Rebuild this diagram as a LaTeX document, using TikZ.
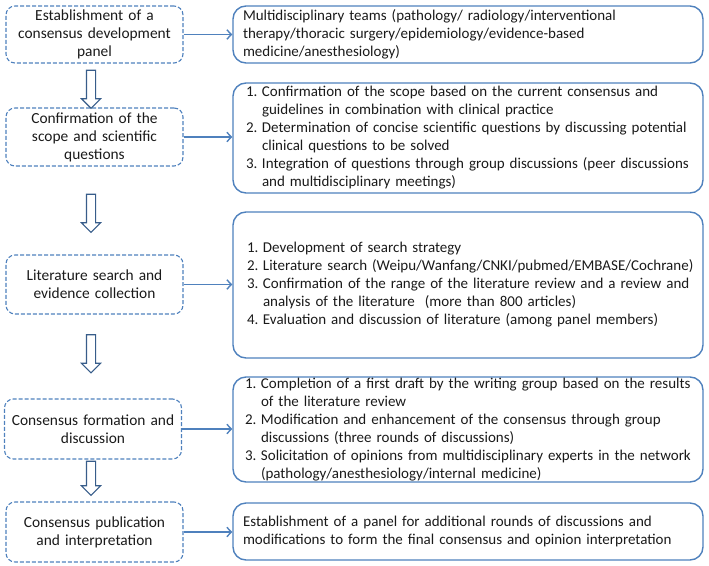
\documentclass[tikz,border=0pt]{standalone}
\usepackage{fontspec}
\setmainfont{Carlito}
\usepackage{tikz}
\usetikzlibrary{arrows.meta,shapes.arrows,positioning}
\definecolor{boxblue}{HTML}{4F81BD}
\definecolor{darkblue}{HTML}{385D8A}
\definecolor{txt}{HTML}{1A1A1A}
\newcommand{\itm}[2]{\hangindent=16pt\hangafter=1\noindent\makebox[16pt][l]{#1}#2\par}

\tikzset{
  stage/.style={draw=boxblue,dashed,dash pattern=on 4pt off 2pt,line width=1.1pt,rounded corners=9pt,
    minimum width=177pt,text width=172pt,align=center,inner sep=0pt,text=txt,
    font=\fontsize{15.4}{18}\selectfont},
  detail/.style={draw=boxblue,line width=1.4pt,rounded corners=13pt,
    minimum width=470pt,text width=462pt,align=left,inner xsep=4pt,inner ysep=0pt,text=txt,
    font=\fontsize{15}{18}\selectfont},
  flow/.style={draw=boxblue,line width=1.4pt,-{Straight Barb[length=4.5pt,width=9.5pt]}},
  hollow/.style={single arrow,draw=darkblue,fill=white,line width=1.1pt,shape border rotate=270,
    minimum height=38pt,minimum width=18pt,single arrow head extend=5pt,inner sep=4pt}
}

\begin{document}
\begin{tikzpicture}[x=1pt,y=1pt]
  \useasboundingbox (0,0) rectangle (709,-565);
  % stages on the left
  \node [stage,minimum height=57pt] (est) at (94.5,-34.5) {Establishment of a\\consensus development\\panel};
  \node [stage,minimum height=58pt] (scope) at (94.5,-137) {Confirmation of the\\scope and scientific\\questions};
  \node [stage,minimum height=59pt] (lit) at (94.5,-284.5) {Literature search and\\evidence collection};
  \node [stage,minimum height=60pt] (form) at (93,-429) {Consensus formation and\\discussion};
  \node [stage,minimum height=60pt] (pub) at (94.5,-532) {Consensus publication\\and interpretation};
  % details on the right
  \node [detail,minimum height=57pt] (estD) at (468,-34.5) {\leftskip=6pt Multidisciplinary teams (pathology/ radiology/interventional\newline therapy/thoracic surgery/epidemiology/evidence-based\newline medicine/anesthesiology)\par};
  \node [detail,minimum height=110pt] (scopeD) at (468,-138) {\leftskip=9pt
    \itm{1.}{Confirmation of the scope based on the current consensus and\newline guidelines in combination with clinical practice}
    \itm{2.}{Determination of concise scientific questions by discussing potential\newline clinical questions to be solved}
    \itm{3.}{Integration of questions through group discussions (peer discussions\newline and multidisciplinary meetings)}};
  \node [detail,minimum height=146pt] (litD) at (468,-285) {\leftskip=10pt
    \itm{1.}{Development of search strategy}
    \itm{2.}{Literature search (Weipu/Wanfang/CNKI/pubmed/EMBASE/Cochrane)}
    \itm{3.}{Confirmation of the range of the literature review and a review and\newline analysis of the literature\ \ (more than 800 articles)}
    \itm{4.}{Evaluation and discussion of literature (among panel members)}};
  \node [detail,minimum height=105pt] (formD) at (468,-429.5) {\leftskip=8pt
    \itm{1.}{Completion of a first draft by the writing group based on the results\newline of the literature review}
    \itm{2.}{Modification and enhancement of the consensus through group\newline discussions (three rounds of discussions)}
    \itm{3.}{Solicitation of opinions from multidisciplinary experts in the network\newline (pathology/anesthesiology/internal medicine)}};
  \node [detail,minimum height=57pt] (pubD) at (468,-531.5) {\leftskip=6pt Establishment of a panel for additional rounds of discussions and\newline modifications to form the final consensus and opinion interpretation\par};
  % arrows
  \draw [flow] (est.east) -- (est.east -| estD.west);
  \draw [flow] (scope.east) -- (scope.east -| scopeD.west);
  \draw [flow] (lit.east) -- (lit.east -| litD.west);
  \draw [flow] (form.east) -- (form.east -| formD.west);
  \draw [flow] (pub.east) -- (pub.east -| pubD.west);
  \node [hollow] (a1) at (91,-87) {};
  \node [hollow] (a2) at (91,-211) {};
  \node [hollow] (a3) at (91,-351.5) {};
  \node [hollow,minimum height=34pt] (a4) at (91,-476) {};
\end{tikzpicture}
\end{document}
